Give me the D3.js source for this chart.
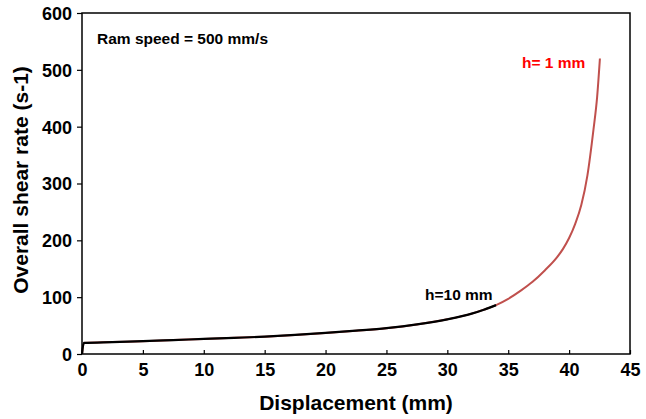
<!DOCTYPE html>
<html>
<head>
<meta charset="utf-8">
<script src="https://cdn.jsdelivr.net/npm/d3@7.9.0/dist/d3.min.js"></script>
<style>
  body { margin: 0; background: #fff; }
  svg { font-family: "Liberation Sans", Arial, sans-serif; font-weight: bold; }
</style>
</head>
<body>
<svg id="chart" width="646" height="419"></svg>
<script>
// displacement (mm) and overall shear rate (s-1)
const displacement = [0, 0.15, 2.5, 5, 7.5, 10, 12.5, 15, 17.5, 20, 22.5, 25, 27.5, 30, 32, 33, 34,
  35, 36, 37, 38, 39, 39.5, 40, 40.5, 41, 41.5, 42, 42.3, 42.53];
const shearRate = [0, 19.5, 21, 22.5, 24.5, 26.5, 28.5, 30.5, 33.5, 37, 41, 45.5, 52, 61, 71, 78, 86,
  97, 111, 127, 147, 170, 185, 204, 229, 262, 314, 395, 452, 520];
const blackEnd = 34; // h = 10 mm reached here
const xTicks = [0, 5, 10, 15, 20, 25, 30, 35, 40, 45];
const yTicks = [0, 100, 200, 300, 400, 500, 600];

const svg = d3.select('#chart');
const plotL = 82, plotR = 630, plotT = 13, plotB = 354;

const x = d3.scaleLinear().domain([0, 45]).range([plotL, plotR]);
const y = d3.scaleLinear().domain([0, 600]).range([plotB, plotT]);

const pts = displacement.map((d, i) => ({ d: d, r: shearRate[i] }));

const line = d3.line()
  .x(p => x(p.d))
  .y(p => y(p.r))
  .curve(d3.curveMonotoneX);

// whole curve in red, the part up to h=10 mm in black on top
svg.append('path')
  .attr('d', line(pts))
  .attr('fill', 'none')
  .attr('stroke', '#c0504d')
  .attr('stroke-width', 2);

svg.append('path')
  .attr('d', line(pts.filter(p => p.d <= blackEnd)))
  .attr('fill', 'none')
  .attr('stroke', '#000')
  .attr('stroke-width', 2.2);

// axes
const xAxis = svg.append('g')
  .attr('transform', `translate(0,${plotB})`)
  .call(d3.axisBottom(x).tickValues(xTicks).tickSizeInner(-4).tickSizeOuter(0).tickPadding(8));
const yAxis = svg.append('g')
  .attr('transform', `translate(${plotL},0)`)
  .call(d3.axisLeft(y).tickValues(yTicks).tickSizeInner(5).tickSizeOuter(0).tickPadding(5));

[xAxis, yAxis].forEach(g => {
  g.select('.domain').remove();
  g.selectAll('line').attr('stroke', '#000').attr('stroke-width', 1.2);
  g.selectAll('text')
    .attr('font-family', '"Liberation Sans", Arial, sans-serif')
    .attr('font-weight', 'bold')
    .attr('font-size', 18)
    .attr('fill', '#000');
});
xAxis.selectAll('text').attr('dy', '0.71em').attr('y', 9);
yAxis.selectAll('text').attr('dy', '0.36em');

// frame
svg.append('rect')
  .attr('x', plotL).attr('y', plotT)
  .attr('width', plotR - plotL).attr('height', plotB - plotT)
  .attr('fill', 'none')
  .attr('stroke', '#000')
  .attr('stroke-width', 1.5);

// axis titles
svg.append('text')
  .attr('x', (plotL + plotR) / 2).attr('y', 410)
  .attr('text-anchor', 'middle')
  .attr('font-size', 21)
  .text('Displacement (mm)');

svg.append('text')
  .attr('transform', 'translate(28,180) rotate(-90)')
  .attr('text-anchor', 'middle')
  .attr('font-size', 21)
  .text('Overall shear rate (s-1)');

// annotations
svg.append('text')
  .attr('x', 97).attr('y', 44)
  .attr('font-size', 15.5)
  .text('Ram speed = 500 mm/s');

svg.append('text')
  .attr('x', 425).attr('y', 300)
  .attr('font-size', 15.5)
  .text('h=10 mm');

svg.append('text')
  .attr('x', 522).attr('y', 68)
  .attr('font-size', 15.5)
  .attr('fill', '#ff0000')
  .text('h= 1 mm');
</script>
</body>
</html>
